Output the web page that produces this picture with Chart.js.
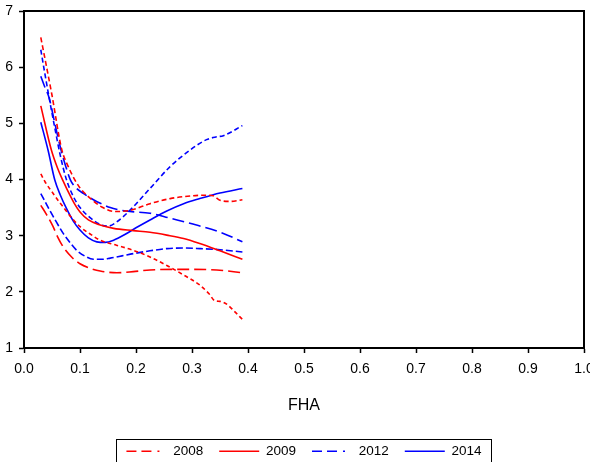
<!DOCTYPE html>
<html>
<head>
<meta charset="utf-8">
<script src="https://cdn.jsdelivr.net/npm/chart.js@4"></script>
<style>
  html, body { margin: 0; padding: 0; background: #fff; }
  canvas { display: block; }
</style>
</head>
<body>
<canvas id="chart" width="590" height="462"></canvas>
<script>
// Legend entries and axis ticks
const years = ['2008', '2009', '2012', '2014'];
const xTickValues = [0, 0.1, 0.2, 0.3, 0.4, 0.5, 0.6, 0.7, 0.8, 0.9, 1.0];
const yTickValues = [1, 2, 3, 4, 5, 6, 7];

// 2008: estimate with its upper and lower bands
const x2008Upper = [0.03, 0.04, 0.05, 0.067, 0.079, 0.091, 0.10, 0.109, 0.12, 0.139, 0.163, 0.189, 0.225, 0.261, 0.30, 0.325, 0.338, 0.35, 0.368, 0.39];
const y2008Upper = [6.53, 6.02, 5.50, 4.55, 4.23, 3.99, 3.85, 3.75, 3.65, 3.51, 3.43, 3.45, 3.57, 3.66, 3.71, 3.72, 3.71, 3.63, 3.61, 3.64];
const x2008Mid = [0.03, 0.0375, 0.05, 0.06, 0.07, 0.085, 0.10, 0.118, 0.136, 0.165, 0.195, 0.225, 0.255, 0.285, 0.314, 0.33, 0.341, 0.35, 0.362, 0.374, 0.39];
const y2008Mid = [4.10, 3.96, 3.78, 3.64, 3.51, 3.32, 3.16, 3.03, 2.92, 2.83, 2.74, 2.62, 2.47, 2.30, 2.12, 1.97, 1.84, 1.83, 1.78, 1.67, 1.51];
const x2008Lower = [0.03, 0.04, 0.052, 0.06, 0.07, 0.085, 0.10, 0.118, 0.136, 0.166, 0.195, 0.225, 0.284, 0.344, 0.39];
const y2008Lower = [3.54, 3.38, 3.16, 2.98, 2.80, 2.62, 2.50, 2.42, 2.37, 2.34, 2.36, 2.39, 2.40, 2.39, 2.34];

// 2009
const x2009 = [0.03, 0.049, 0.06, 0.07, 0.08, 0.09, 0.10, 0.115, 0.136, 0.16, 0.195, 0.225, 0.255, 0.285, 0.314, 0.35, 0.39];
const y2009 = [5.31, 4.52, 4.20, 3.97, 3.76, 3.57, 3.42, 3.28, 3.19, 3.13, 3.09, 3.06, 3.01, 2.95, 2.86, 2.73, 2.58];

// 2012: estimate with its bands
const x2012Upper = [0.03, 0.037, 0.045, 0.055, 0.065, 0.076, 0.088, 0.10, 0.118, 0.136, 0.15, 0.165, 0.189, 0.225, 0.261, 0.296, 0.326, 0.344, 0.356, 0.39];
const y2012Upper = [6.31, 5.90, 5.45, 4.92, 4.42, 3.99, 3.70, 3.50, 3.32, 3.20, 3.17, 3.24, 3.45, 3.84, 4.23, 4.52, 4.71, 4.76, 4.78, 4.96];
const x2012Mid = [0.03, 0.037, 0.045, 0.055, 0.065, 0.075, 0.083, 0.094, 0.108, 0.124, 0.14, 0.154, 0.17, 0.189, 0.225, 0.261, 0.308, 0.356, 0.39];
const y2012Mid = [5.84, 5.65, 5.45, 5.00, 4.57, 4.22, 3.99, 3.84, 3.74, 3.64, 3.56, 3.50, 3.46, 3.43, 3.40, 3.31, 3.19, 3.04, 2.89];
const x2012Lower = [0.03, 0.046, 0.058, 0.07, 0.082, 0.094, 0.108, 0.124, 0.14, 0.154, 0.175, 0.195, 0.225, 0.255, 0.285, 0.314, 0.35, 0.39];
const y2012Lower = [3.75, 3.45, 3.24, 3.04, 2.88, 2.74, 2.64, 2.58, 2.58, 2.60, 2.64, 2.68, 2.73, 2.77, 2.78, 2.77, 2.75, 2.71];

// 2014
const x2014 = [0.03, 0.043, 0.055, 0.065, 0.076, 0.088, 0.10, 0.115, 0.13, 0.145, 0.16, 0.18, 0.20, 0.225, 0.255, 0.285, 0.314, 0.35, 0.39];
const y2014 = [5.02, 4.52, 3.99, 3.72, 3.48, 3.26, 3.10, 2.96, 2.89, 2.88, 2.92, 3.02, 3.14, 3.28, 3.44, 3.57, 3.66, 3.76, 3.84];

const RED = '#ff0000';
const BLUE = '#0000ff';
const FAMILY = '"Liberation Sans", Arial, sans-serif';
const TICK_FONT = { family: FAMILY, size: 14 };
const TITLE_FONT = { family: FAMILY, size: 16 };
const LEGEND_FONT = { family: FAMILY, size: 13.5 };

const toPoints = (xs, ys) => xs.map((x, i) => ({ x, y: ys[i] }));

const curve = (label, xs, ys, color, dash) => ({
  label,
  data: toPoints(xs, ys),
  borderColor: color,
  borderDash: dash,
  borderWidth: 1.6,
  pointRadius: 0,
  fill: false,
  cubicInterpolationMode: 'monotone'
});

const datasets = [
  curve('2008', x2008Upper, y2008Upper, RED, [5, 3]),
  curve('2008', x2008Mid, y2008Mid, RED, [4, 3]),
  curve('2008', x2008Lower, y2008Lower, RED, [12, 5]),
  curve('2009', x2009, y2009, RED, []),
  curve('2012', x2012Upper, y2012Upper, BLUE, [5, 3]),
  curve('2012', x2012Mid, y2012Mid, BLUE, [12, 5]),
  curve('2012', x2012Lower, y2012Lower, BLUE, [7, 3]),
  curve('2014', x2014, y2014, BLUE, [])
];

// Legend line samples for each year
const legendColors = [RED, RED, BLUE, BLUE];
const legendDashes = [[10, 5, 10, 6, 2, 7], [], [10, 5, 10, 6, 2, 7], []];

// Offset of the legend row relative to its default centred slot
const legendShift = { x: 12, y: 6 };

const legendOffsetPlugin = {
  id: 'legendOffset',
  afterLayout(chart) {
    const lg = chart.legend;
    if (!lg) return;
    lg.left += legendShift.x;
    lg.right += legendShift.x;
    lg.top += legendShift.y;
    lg.bottom += legendShift.y;
  }
};

// Closes the plot frame on the top and right sides
const framePlugin = {
  id: 'frame',
  afterDatasetsDraw(chart) {
    const { ctx, chartArea: { left, top, right, bottom } } = chart;
    ctx.save();
    ctx.strokeStyle = '#000';
    ctx.lineWidth = 2;
    ctx.beginPath();
    ctx.moveTo(left - 1, top);
    ctx.lineTo(right, top);
    ctx.lineTo(right, bottom + 1);
    ctx.stroke();
    ctx.restore();
  }
};

// Rectangle around the legend row
const legendBoxPlugin = {
  id: 'legendBox',
  afterDraw(chart) {
    const boxes = chart.legend && chart.legend.legendHitBoxes;
    if (!boxes || !boxes.length) return;
    const first = boxes[0];
    const last = boxes[boxes.length - 1];
    const centerY = first.top + first.height / 2;
    const ctx = chart.ctx;
    ctx.save();
    ctx.strokeStyle = '#000';
    ctx.lineWidth = 1;
    ctx.setLineDash([]);
    const l = Math.round(first.left - 10) + 0.5;
    const r = Math.round(last.left + last.width + 9) + 0.5;
    const t = Math.round(centerY - 12) + 0.5;
    ctx.strokeRect(l, t, r - l, chart.height + 5 - t);
    ctx.restore();
  }
};

new Chart(document.getElementById('chart'), {
  type: 'line',
  data: { datasets },
  plugins: [legendOffsetPlugin, framePlugin, legendBoxPlugin],
  options: {
    responsive: false,
    animation: false,
    devicePixelRatio: 1,
    layout: { padding: { top: 11, right: 6, left: 0, bottom: 0 } },
    plugins: {
      tooltip: { enabled: false },
      legend: {
        position: 'bottom',
        labels: {
          font: LEGEND_FONT,
          color: '#000',
          usePointStyle: true,
          pointStyleWidth: 40,
          padding: 16,
          generateLabels: () => years.map((year, i) => ({
            text: year,
            fillStyle: 'rgba(0,0,0,0)',
            strokeStyle: legendColors[i],
            lineWidth: 1.6,
            lineDash: legendDashes[i],
            pointStyle: 'line',
            fontColor: '#000',
            hidden: false,
            datasetIndex: i
          }))
        }
      }
    },
    scales: {
      x: {
        type: 'linear',
        min: 0,
        max: 1,
        afterBuildTicks: (scale) => { scale.ticks = xTickValues.map(v => ({ value: v })); },
        afterFit: (scale) => {
          scale.paddingLeft = 0;
          scale.paddingRight = 0;
          scale.height = 462 - 348 - scale.chart.legend.height;
        },
        ticks: {
          font: TICK_FONT,
          color: '#000',
          padding: 8,
          maxRotation: 0,
          autoSkip: false,
          callback: (v) => Number(v).toFixed(1)
        },
        grid: {
          drawOnChartArea: false,
          drawTicks: true,
          tickLength: 5,
          tickWidth: 1.5,
          tickColor: '#000'
        },
        border: { display: true, color: '#000', width: 2 },
        title: {
          display: true,
          text: 'FHA',
          font: TITLE_FONT,
          color: '#000',
          padding: { top: 0, bottom: 7 }
        }
      },
      y: {
        type: 'linear',
        min: 1,
        max: 7,
        afterBuildTicks: (scale) => { scale.ticks = yTickValues.map(v => ({ value: v })); },
        afterFit: (scale) => {
          scale.width = 24;
          scale.paddingTop = 0;
          scale.paddingBottom = 0;
        },
        ticks: {
          font: TICK_FONT,
          color: '#000',
          padding: 6,
          callback: (v) => String(v)
        },
        grid: {
          drawOnChartArea: false,
          drawTicks: true,
          tickLength: 5,
          tickWidth: 1.5,
          tickColor: '#000'
        },
        border: { display: true, color: '#000', width: 2 }
      }
    }
  }
});
</script>
</body>
</html>
